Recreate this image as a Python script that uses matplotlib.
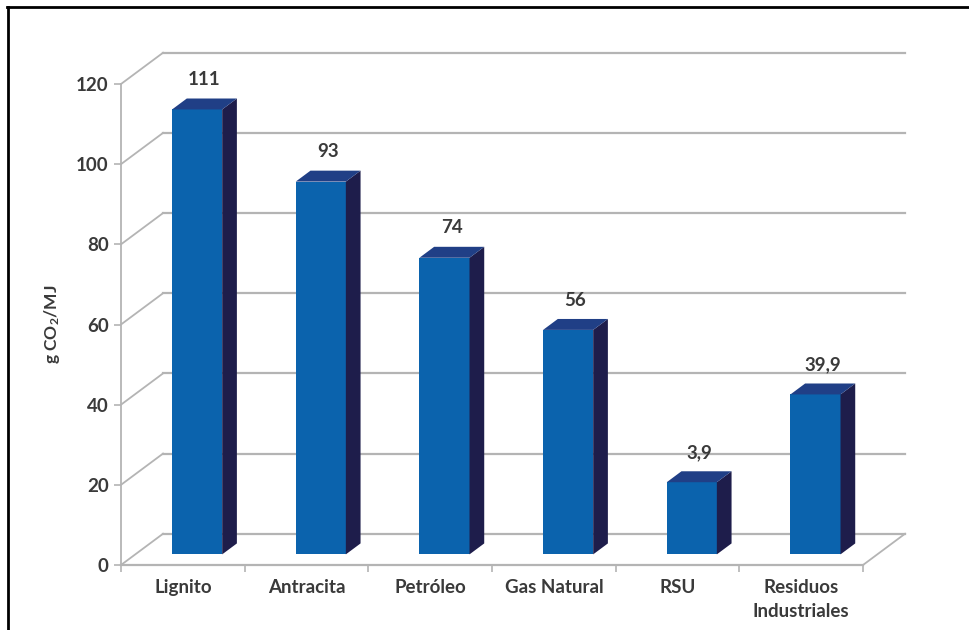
import matplotlib
matplotlib.use("Agg")
import matplotlib.pyplot as plt
from matplotlib.patches import Polygon
from matplotlib.lines import Line2D

# ---- data ----
categories = ["Lignito", "Antracita", "Petróleo", "Gas Natural", "RSU", "Residuos\nIndustriales"]
values = [111, 93, 74, 56, 18, 39.9]
value_labels = ["111", "93", "74", "56", "3,9", "39,9"]
y_ticks = [0, 20, 40, 60, 80, 100, 120]
y_label = "g CO$_2$/MJ"

# ---- style ----
plt.rcParams['font.family'] = ['Lato', 'DejaVu Sans']
plt.rcParams['mathtext.fontset'] = 'custom'
plt.rcParams['mathtext.rm'] = 'Lato:bold'
plt.rcParams['mathtext.it'] = 'Lato:bold'
plt.rcParams['mathtext.bf'] = 'Lato:bold'

FRONT = "#0B63AD"
SIDE = "#1E1D4B"
TOP = "#203F86"
GRID = "#B4B4B4"
TEXT = "#3A3A3A"

W, H = 969, 630
fig = plt.figure(figsize=(W / 100, H / 100), dpi=100)
fig.patch.set_facecolor("white")

# axes so that the front plane maps x 0..6 -> px 121..863, y 0..120 -> px 565..84
left, right, top, bottom = 121, 863, 84, 565
ax = fig.add_axes([left / W, 1 - bottom / H, (right - left) / W, (bottom - top) / H])
n = len(categories)
ax.set_xlim(0, n)
ax.set_ylim(0, 120)
ax.set_facecolor("none")

DX = 0.34   # depth shift in category units (full depth)
DY = 7.8    # depth shift in value units (full depth)
F0, FD = 0.34, 0.35   # bar front depth and bar depth (fractions)
BW = 0.405            # bar width (category units)

# back wall gridlines + diagonals on left wall
for v in y_ticks:
    ax.plot([0, DX], [v, v + DY], color=GRID, lw=1.3, clip_on=False, zorder=1)
    ax.plot([DX, n + DX], [v + DY, v + DY], color=GRID, lw=1.6, clip_on=False, zorder=1)
# floor
ax.plot([n, n + DX], [0, DY], color=GRID, lw=1.3, clip_on=False, zorder=1)
ax.plot([0, n], [0, 0], color=GRID, lw=1.6, clip_on=False, zorder=1)

# bars
for i, (v, lab) in enumerate(zip(values, value_labels)):
    c = i + 0.5
    x0 = c - BW / 2 + F0 * DX
    x1 = c + BW / 2 + F0 * DX
    y0 = F0 * DY
    y1 = v + F0 * DY
    ddx, ddy = FD * DX, FD * DY
    front = Polygon([(x0, y0), (x1, y0), (x1, y1), (x0, y1)], closed=True,
                    facecolor=FRONT, edgecolor="none", zorder=3, clip_on=False)
    side = Polygon([(x1, y0), (x1 + ddx, y0 + ddy), (x1 + ddx, y1 + ddy), (x1, y1)], closed=True,
                   facecolor=SIDE, edgecolor="none", zorder=3, clip_on=False)
    topf = Polygon([(x0, y1), (x1, y1), (x1 + ddx, y1 + ddy), (x0 + ddx, y1 + ddy)], closed=True,
                   facecolor=TOP, edgecolor="none", zorder=3, clip_on=False)
    for p in (front, side, topf):
        ax.add_patch(p)
    ax.text(c + (F0 + FD / 2) * DX, y1 + ddy + 2.6, lab, ha="center", va="bottom",
            fontsize=13.5, fontweight="bold", color=TEXT, zorder=4, clip_on=False)

# axes styling
for s in ["top", "right", "bottom"]:
    ax.spines[s].set_visible(False)
ax.spines["left"].set_color(GRID)
ax.spines["left"].set_linewidth(1.3)
ax.set_yticks(y_ticks)
ax.set_yticklabels([str(t) for t in y_ticks], fontsize=13.5, fontweight="bold", color=TEXT)
ax.tick_params(axis="y", length=5, width=1.2, color=GRID, pad=4)
ax.set_xticks([i + 0.5 for i in range(n)])
ax.set_xticklabels(categories, fontsize=13.5, fontweight="bold", color=TEXT, linespacing=1.5)
ax.tick_params(axis="x", length=0, pad=10)
ax.set_xticks(list(range(n + 1)), minor=True)
ax.tick_params(axis="x", which="minor", length=5, width=1.2, color=GRID, direction="out")
ax.set_ylabel(y_label, fontsize=12.5, fontweight="bold", color=TEXT, labelpad=10)

# outer frame lines (top and left)
fig.add_artist(Line2D([7 / W, 1], [1 - 7 / H, 1 - 7 / H], color="black", lw=2, transform=fig.transFigure))
fig.add_artist(Line2D([8 / W, 8 / W], [0, 1 - 7 / H], color="black", lw=2, transform=fig.transFigure))

fig.savefig("out.png", dpi=100)
